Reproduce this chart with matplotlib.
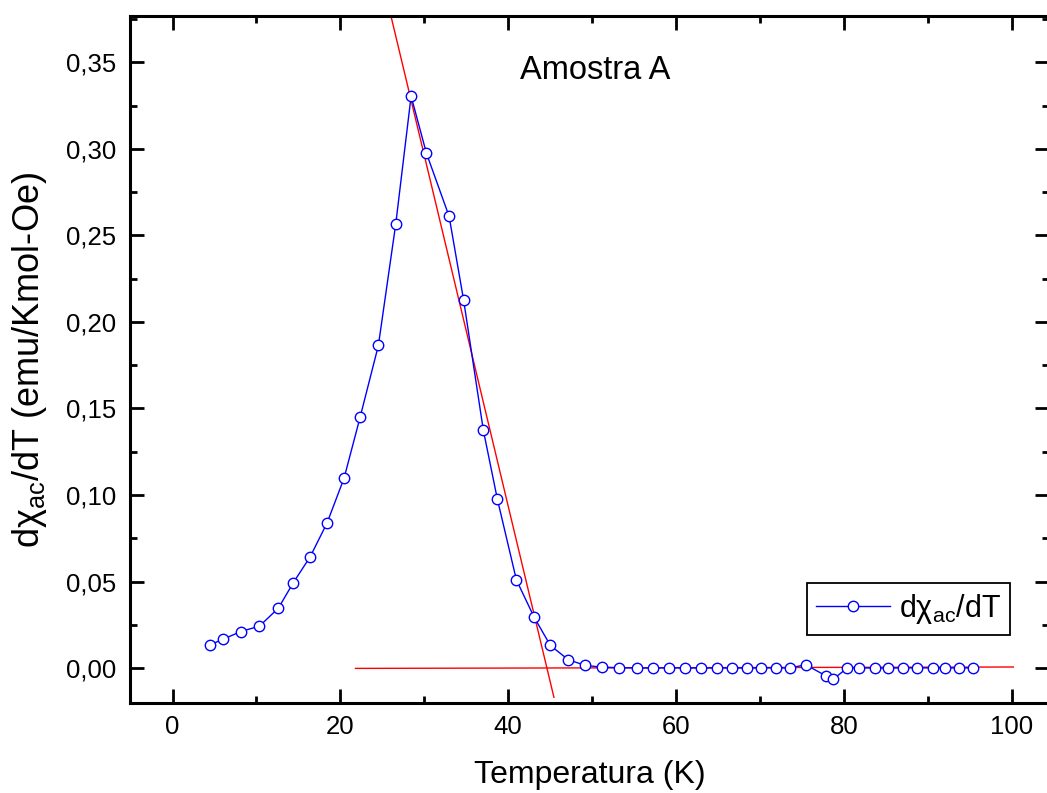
import matplotlib
matplotlib.use("Agg")
import matplotlib.pyplot as plt
from matplotlib.ticker import MultipleLocator, FuncFormatter

plt.rcParams['font.family'] = ['Liberation Sans', 'DejaVu Sans']
plt.rcParams['mathtext.fontset'] = 'custom'
plt.rcParams['mathtext.rm'] = 'Liberation Sans'
plt.rcParams['mathtext.it'] = 'Liberation Sans'
plt.rcParams['mathtext.default'] = 'regular'

# dchi/dT data
temp = [4.47, 6.05, 8.13, 10.35, 12.61, 14.40, 16.39, 18.41, 20.44, 22.35,
        24.53, 26.60, 28.43, 30.25, 32.96, 34.68, 37.04, 38.71, 40.98, 43.09,
        45.02, 47.16, 49.20, 51.23, 53.22, 55.33, 57.23, 59.21, 61.12, 62.96,
        64.86, 66.65, 68.44, 70.14, 71.93, 73.60, 75.47, 77.93, 78.76, 80.43,
        81.86, 83.73, 85.32, 87.10, 88.70, 90.61, 92.07, 93.78, 95.37]
dchi = [0.0134, 0.0167, 0.0211, 0.0242, 0.0346, 0.0494, 0.0642, 0.0838, 0.1097, 0.1449,
        0.1864, 0.2566, 0.3305, 0.2976, 0.2610, 0.2129, 0.1374, 0.0976, 0.0509, 0.0294,
        0.0131, 0.0048, 0.0015, 0.0005, 0.0002, 0.0001, 0.0000, 0.0002, 0.0000, 0.0001,
        0.0000, 0.0001, 0.0000, 0.0001, 0.0001, 0.0001, 0.0019, -0.0047, -0.0063, 0.0001,
        0.0001, 0.0000, 0.0000, 0.0001, 0.0001, 0.0001, 0.0001, 0.0001, 0.0001]

# red guide lines (end points)
fit_x = [25.5, 45.45]
fit_y = [0.3875, -0.0169]
base_x = [21.8, 100.2]
base_y = [-0.0002, 0.0006]

fig = plt.figure(figsize=(10.47, 7.93), dpi=100)
ax = fig.add_axes([130/1047, 90/793, 919/1047, 687/793])

ax.plot(fit_x, fit_y, color='red', lw=1.0, zorder=2)
ax.plot(base_x, base_y, color='red', lw=1.0, zorder=2)
ax.plot(temp, dchi, color='blue', lw=1.0, marker='o', ms=7.5, mfc='white',
        mec='blue', mew=1.0, label=r'd$\chi_{ac}$/dT', zorder=3)

ax.set_xlim(-5.07, 104.45)
ax.set_ylim(-0.0202, 0.3768)

ax.xaxis.set_major_locator(MultipleLocator(20))
ax.xaxis.set_minor_locator(MultipleLocator(10))
ax.yaxis.set_major_locator(MultipleLocator(0.05))
ax.yaxis.set_minor_locator(MultipleLocator(0.025))
ax.yaxis.set_major_formatter(FuncFormatter(lambda v, p: f"{v:.2f}".replace('.', ',')))

ax.tick_params(which='both', direction='in', top=True, right=True, width=2.0,
               labelsize=18.5)
ax.tick_params(which='major', length=10)
ax.tick_params(which='minor', length=5)
ax.tick_params(axis='y', pad=10)
ax.tick_params(axis='x', pad=9)
for s in ax.spines.values():
    s.set_linewidth(2.2)

ax.set_xlabel('Temperatura (K)', fontsize=23, labelpad=15)
ax.set_ylabel(r'd$\chi_{ac}$/dT (emu/Kmol-Oe)', fontsize=26, labelpad=12)

ax.text(50.4, 0.3455, 'Amostra A', fontsize=23.5, ha='center', va='center')

leg = ax.legend(loc='upper right', bbox_to_anchor=(0.9576, 0.1747), borderaxespad=0,
                fontsize=22, fancybox=False, edgecolor='black', framealpha=1,
                handlelength=2.4, handletextpad=0.3, borderpad=0.3, numpoints=1)
leg.get_frame().set_linewidth(1.3)

fig.savefig('out.png', dpi=100)
